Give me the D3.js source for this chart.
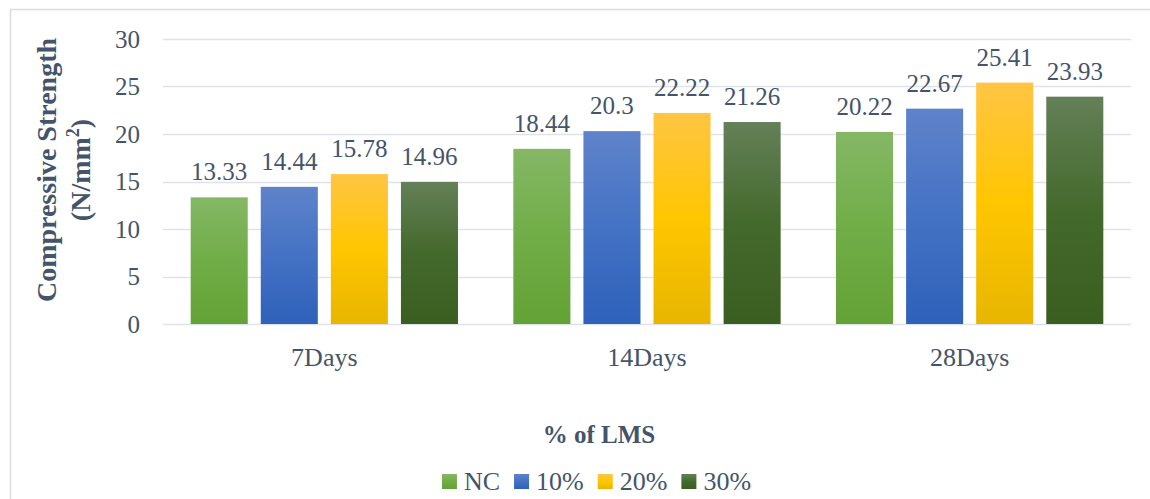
<!DOCTYPE html>
<html><head><meta charset="utf-8">
<script src="https://cdn.jsdelivr.net/npm/d3@7/dist/d3.min.js"></script>
<style>body{margin:0;background:#fff}svg{display:block}text{font-family:"Liberation Serif","Times New Roman",serif;fill:#44546a}</style>
</head><body>
<svg id="c" width="1150" height="499"></svg>
<script>
const categories = ["7Days", "14Days", "28Days"];
const seriesNames = ["NC", "10%", "20%", "30%"];
const seriesValues = [
  [13.33, 18.44, 20.22],
  [14.44, 20.3, 22.67],
  [15.78, 22.22, 25.41],
  [14.96, 21.26, 23.93]
];
const yTicks = [0, 5, 10, 15, 20, 25, 30];
const seriesGradients = [
  ["#85b765", "#70ad47", "#63a235"],
  ["#5f83ca", "#4472c4", "#2e61ba"],
  ["#ffc544", "#ffc600", "#e8b600"],
  ["#648058", "#44692c", "#3a5e20"]
];

(function () {
const svg = d3.select("#c");
const pL = 163, pR = 1131, pT = 39, pB = 324;

svg.append("rect").attr("x", 10.5).attr("y", 9.5).attr("width", 1300).attr("height", 700)
  .attr("fill", "none").attr("stroke", "#d9dde3").attr("stroke-width", 1.5);

const defs = svg.append("defs");
seriesGradients.forEach((g, i) => {
  const lg = defs.append("linearGradient").attr("id", "g" + i).attr("x1", 0).attr("y1", 0).attr("x2", 0).attr("y2", 1);
  lg.append("stop").attr("offset", "0%").attr("stop-color", g[0]);
  lg.append("stop").attr("offset", "50%").attr("stop-color", g[1]);
  lg.append("stop").attr("offset", "100%").attr("stop-color", g[2]);
});

const y = d3.scaleLinear().domain([0, 30]).range([pB, pT]);
const x0 = d3.scaleBand().domain(categories).range([pL, pR]).padding(0);
const x1 = d3.scaleBand().domain(seriesNames).range([0, x0.bandwidth()]).paddingInner(0.186).paddingOuter(0.395);

svg.append("g").selectAll("line").data(yTicks).join("line")
  .attr("x1", pL).attr("x2", pR)
  .attr("y1", d => Math.round(y(d)) + 0.5).attr("y2", d => Math.round(y(d)) + 0.5)
  .attr("stroke", "#dfe2e7").attr("stroke-width", 1.5);

svg.append("g").selectAll("text").data(yTicks).join("text")
  .attr("x", 140).attr("y", d => y(d)).attr("dy", "0.35em")
  .attr("text-anchor", "end").attr("font-size", 25).text(d => d);

const data = [];
seriesNames.forEach((s, si) => categories.forEach((c, ci) => data.push({s, si, c, v: seriesValues[si][ci]})));
svg.append("g").selectAll("rect").data(data).join("rect")
  .attr("x", d => x0(d.c) + x1(d.s)).attr("width", x1.bandwidth())
  .attr("y", d => y(d.v)).attr("height", d => y(0) - y(d.v))
  .attr("fill", d => `url(#g${d.si})`);

svg.append("g").selectAll("text").data(data).join("text")
  .attr("x", d => x0(d.c) + x1(d.s) + x1.bandwidth() / 2)
  .attr("y", d => y(d.v) - 17)
  .attr("text-anchor", "middle").attr("font-size", 25).text(d => d.v);

svg.append("g").selectAll("text").data(categories).join("text")
  .attr("x", d => x0(d) + x0.bandwidth() / 2).attr("y", 366)
  .attr("text-anchor", "middle").attr("font-size", 26).text(d => d);

const yt = svg.append("g").attr("transform", "translate(0,170) rotate(-90)");
yt.append("text").attr("x", 0).attr("y", 56).attr("text-anchor", "middle")
  .attr("font-size", 28).attr("font-weight", "bold").text("Compressive Strength");
const l2 = yt.append("text").attr("x", 0).attr("y", 90).attr("text-anchor", "middle")
  .attr("font-size", 28).attr("font-weight", "bold");
l2.append("tspan").text("(N/mm");
l2.append("tspan").attr("font-size", 18).attr("dy", -11).text("2");
l2.append("tspan").attr("dy", 11).text(")");

svg.append("text").attr("x", 599).attr("y", 443).attr("text-anchor", "middle")
  .attr("font-size", 25).attr("font-weight", "bold").text("% of LMS");

const lgd = svg.append("g");
const items = lgd.selectAll("g").data(seriesNames).join("g");
items.append("rect").attr("width", 15).attr("height", 15).attr("y", 474)
  .attr("fill", (d, i) => `url(#g${i})`);
items.append("text").attr("x", 22).attr("y", 490).attr("font-size", 26).text(d => d);
let cx = 0;
const pos = [];
items.each(function () {
  const w = d3.select(this).select("text").node().getComputedTextLength();
  pos.push(cx);
  cx += 22 + w + 14;
});
const total = cx - 14;
const start = 596.5 - total / 2;
items.attr("transform", (d, i) => `translate(${start + pos[i]},0)`);
})();
</script>
</body></html>
